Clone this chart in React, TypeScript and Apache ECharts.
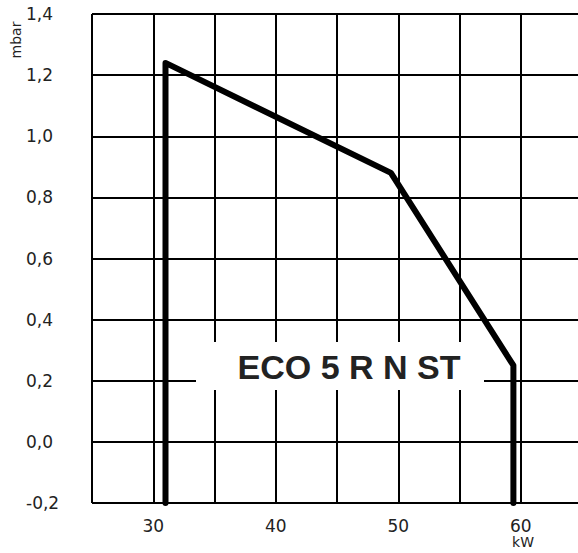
import React, { useEffect, useRef } from "react";
import * as echarts from "echarts";

const powerKW = [31, 31, 49.4, 59.4, 59.4];
const pressureMbar = [-0.2, 1.24, 0.88, 0.25, -0.2];
const xTickLabels = [30, 40, 50, 60];
const yTicks = [-0.2, 0, 0.2, 0.4, 0.6, 0.8, 1.0, 1.2, 1.4];
const modelName = "ECO 5 R N ST";
const xUnit = "kW";
const yUnit = "mbar";

export default function App() {
  const ref = useRef<HTMLDivElement>(null);
  useEffect(() => {
    if (!ref.current) return;
    const chart = echarts.init(ref.current, null, { renderer: "svg" });
    const data = powerKW.map((x, i) => [x, pressureMbar[i]]);
    chart.setOption({
      animation: false,
      backgroundColor: "#ffffff",
      grid: { left: 92, top: 14, right: 18, bottom: 50, containLabel: false },
      xAxis: {
        type: "value",
        min: 25,
        max: 65,
        interval: 5,
        axisLine: { show: false },
        axisTick: { show: false },
        splitLine: {
          show: true,
          showMaxLine: false,
          lineStyle: { color: "#000", width: 2 },
        },
        axisLabel: {
          margin: 14,
          fontFamily: "DejaVu Sans",
          fontSize: 17,
          color: "#222",
          formatter: (v: number) =>
            xTickLabels.some((t) => Math.abs(t - v) < 1e-6) ? String(v) : "",
        },
      },
      yAxis: {
        type: "value",
        min: yTicks[0],
        max: yTicks[yTicks.length - 1],
        interval: 0.2,
        axisLine: { show: false },
        axisTick: { show: false },
        splitLine: { show: true, lineStyle: { color: "#000", width: 2 } },
        axisLabel: {
          margin: 66,
          align: "left",
          fontFamily: "DejaVu Sans",
          fontSize: 17,
          color: "#222",
          formatter: (v: number) => v.toFixed(1).replace(".", ","),
        },
      },
      series: [
        {
          type: "line",
          data,
          symbol: "none",
          lineStyle: { color: "#000", width: 6, cap: "round", join: "round" },
          z: 5,
        },
      ],
      graphic: [
        {
          type: "rect",
          shape: { x: 196, y: 342, width: 288, height: 48 },
          style: { fill: "#fff" },
          z: 10,
        },
        {
          type: "text",
          x: 349,
          y: 367,
          style: {
            text: modelName,
            font: "bold 34px 'Liberation Sans', Arial, sans-serif",
            fill: "#222",
            align: "center",
            verticalAlign: "middle",
          },
          z: 11,
        },
        {
          type: "text",
          x: 523,
          y: 542,
          style: {
            text: xUnit,
            font: "14px 'DejaVu Sans'",
            fill: "#222",
            align: "center",
            verticalAlign: "middle",
          },
          z: 11,
        },
        {
          type: "text",
          x: 16,
          y: 40,
          rotation: Math.PI / 2,
          style: {
            text: yUnit,
            font: "14px 'DejaVu Sans'",
            fill: "#222",
            align: "center",
            verticalAlign: "middle",
          },
          z: 11,
        },
      ],
    });
    return () => chart.dispose();
  }, []);
  return (
    <div
      style={{
        position: "absolute",
        left: 0,
        top: 0,
        width: 578,
        height: 553,
        overflow: "hidden",
      }}
    >
      <div ref={ref} style={{ width: 600, height: 553 }} />
    </div>
  );
}
